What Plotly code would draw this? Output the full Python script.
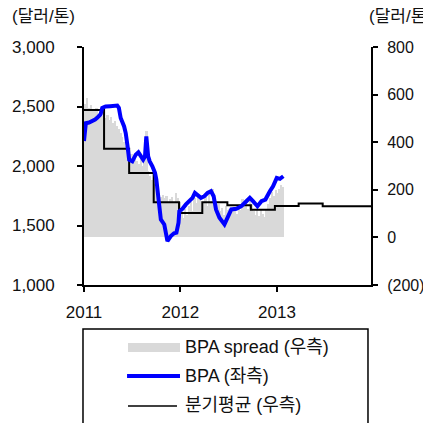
import pandas as pd
import plotly.graph_objects as go

# BPA spread, weekly (USD/t, right axis)
SPREAD_DATES = pd.date_range("2011-01-07", "2013-01-25", freq="W-FRI")
SPREAD_VALUES = [
    560, 585, 545, 555,            # 2011-01
    540, 530, 545, 520,            # 02
    525, 510, 520, 500,            # 03
    515, 495, 505, 480, 490,       # 04
    470, 455, 440, 420,            # 05
    400, 385, 360, 340,            # 06
    350, 330, 345, 320, 310,       # 07
    330, 300, 320, 445,            # 08
    280, 260, 240, 225, 210,       # 09
    195, 185, 170, 180,            # 10
    165, 175, 150, 160,            # 11
    170, 145, 185, 165, 150,       # 12
    110, 80, 120, 95,              # 2012-01
    130, 150, 110, 165,            # 02
    145, 175, 160, 120, 150,       # 03
    170, 130, 185, 150,            # 04
    205, 160, 120, 140,            # 05
    110, 125, 95, 130, 115,        # 06
    120, 105, 125, 110,            # 07
    100, 130, 115, 160, 140,       # 08
    150, 120, 165, 140,            # 09
    110, 95, 130, 90,              # 10
    120, 100, 85, 120, 140,        # 11
    165, 190, 175, 200,            # 12
    185, 205, 220, 210,            # 2013-01
]

# BPA price (USD/t, left axis)
BPA_DATES = [
    "2011-01-01", "2011-01-04", "2011-01-08", "2011-01-20", "2011-02-01", "2011-02-12",
    "2011-02-20", "2011-03-01", "2011-03-05", "2011-03-11", "2011-03-24", "2011-04-10",
    "2011-04-18", "2011-05-07", "2011-05-13", "2011-05-16", "2011-05-20", "2011-06-02",
    "2011-06-08", "2011-06-15", "2011-06-21", "2011-07-03", "2011-07-16", "2011-07-26",
    "2011-08-04", "2011-08-13", "2011-08-20", "2011-08-25", "2011-09-01", "2011-09-07",
    "2011-09-17", "2011-09-27", "2011-10-02", "2011-10-06", "2011-10-12", "2011-10-19",
    "2011-11-01", "2011-11-09", "2011-11-13", "2011-11-26", "2011-12-08", "2011-12-17",
    "2011-12-25", "2011-12-28", "2012-01-09", "2012-01-22", "2012-02-04", "2012-02-16",
    "2012-02-25", "2012-03-06", "2012-03-19", "2012-04-01", "2012-04-13", "2012-04-26",
    "2012-05-06", "2012-05-15", "2012-05-28", "2012-06-16", "2012-06-29", "2012-07-12",
    "2012-07-31", "2012-08-19", "2012-09-07", "2012-09-20", "2012-10-02", "2012-10-19",
    "2012-11-03", "2012-11-18", "2012-12-05", "2012-12-17", "2012-12-31", "2013-01-12",
    "2013-01-25",
]
BPA_VALUES = [
    2210, 2300, 2360, 2365, 2375, 2390,
    2405, 2420, 2435, 2487, 2500, 2503,
    2506, 2508, 2490, 2465, 2403, 2332,
    2277, 2165, 2053, 2039, 2095, 2115,
    2081, 2053, 2081, 2249, 2081, 2039,
    1997, 1942, 1886, 1802, 1662, 1551,
    1509, 1411, 1369, 1411, 1434, 1440,
    1523, 1620, 1640, 1677, 1704, 1732,
    1774, 1760, 1732, 1746, 1774, 1788,
    1746, 1635, 1565, 1509, 1565, 1635,
    1641, 1662, 1704, 1732, 1704, 1662,
    1704, 1718, 1788, 1830, 1900, 1892,
    1914,
]

# Quarterly average spread (USD/t, right axis)
QUARTER_DATES = [
    "2011-01-01", "2011-03-18", "2011-06-21", "2011-09-22", "2011-12-27", "2012-03-24",
    "2012-06-27", "2012-09-24", "2012-12-24", "2013-03-24", "2013-06-23", "2013-12-23",
]
QUARTER_VALUES = [535, 372, 271, 148, 103, 148, 135, 116, 132, 142, 131, 131]

YEAR_TICKS = ["2011-01-01", "2012-01-01", "2013-01-01"]
YEAR_LABELS = ["2011", "2012", "2013"]
RIGHT_TICKS = [-200, 0, 200, 400, 600, 800]
RIGHT_LABELS = ["(200)", "0", "200", "400", "600", "800"]

GRAY = "#d9d9d9"
BLUE = "#0000ff"
FONT = "Liberation Sans, Arial, Noto Sans CJK KR, sans-serif"

fig = go.Figure()
fig.add_trace(go.Bar(
    x=SPREAD_DATES, y=SPREAD_VALUES, yaxis="y",
    width=7 * 86400000, marker=dict(color=GRAY, line=dict(width=0)),
    name="BPA spread (우측)",
))
fig.add_trace(go.Scatter(
    x=QUARTER_DATES, y=QUARTER_VALUES, yaxis="y", mode="lines",
    line=dict(color="black", width=2, shape="hv"), name="분기평균 (우측)",
))
fig.add_trace(go.Scatter(
    x=BPA_DATES, y=BPA_VALUES, yaxis="y2", mode="lines",
    line=dict(color=BLUE, width=4), name="BPA (좌측)",
))

axis_style = dict(
    showline=True, linecolor="black", linewidth=2, ticks="outside", ticklen=5,
    tickwidth=2, tickcolor="black", showgrid=False, zeroline=False, automargin=False,
)

# the page body adds an 8px offset, so the figure is 8px smaller than the window
fig.update_layout(
    width=423, height=415,
    margin=dict(l=76, r=60, t=39, b=138),
    paper_bgcolor="white", plot_bgcolor="white",
    font=dict(family=FONT, size=17, color="#111"),
    showlegend=False, bargap=0,
    xaxis=dict(
        type="date", range=["2011-01-01", "2013-12-23"],
        tickvals=YEAR_TICKS, ticktext=YEAR_LABELS, ticklabelstandoff=6, **axis_style,
    ),
    yaxis=dict(
        side="right", range=[-200, 800], tickvals=RIGHT_TICKS, ticktext=RIGHT_LABELS,
        ticklabelstandoff=6, tickfont=dict(size=16), **axis_style,
    ),
    yaxis2=dict(
        side="left", overlaying="y", range=[1000, 3000], dtick=500, tickformat=",",
        ticklabelstandoff=19, **axis_style,
    ),
)

# unit labels above both axes
for x in [-0.258, 0.986]:
    fig.add_annotation(
        text="(달러/톤)", x=x, y=1.128, xref="paper", yref="paper",
        xanchor="left", yanchor="middle", showarrow=False,
    )

# boxed legend under the chart
fig.add_shape(type="rect", xref="paper", yref="paper", x0=-0.0035, x1=0.9895,
              y0=-0.62, y1=-0.185, line=dict(color="black", width=1.5))
fig.add_shape(type="rect", xref="paper", yref="paper", x0=0.1533, x1=0.3345,
              y0=-0.2815, y1=-0.2437, fillcolor=GRAY, line=dict(width=0))
fig.add_shape(type="line", xref="paper", yref="paper", x0=0.150, x1=0.3345,
              y0=-0.3824, y1=-0.3824, line=dict(color=BLUE, width=4))
fig.add_shape(type="line", xref="paper", yref="paper", x0=0.1533, x1=0.324,
              y0=-0.5084, y1=-0.5084, line=dict(color="black", width=1.5))
for label, y in [("BPA spread (우측)", -0.2605), ("BPA (좌측)", -0.3824), ("분기평균 (우측)", -0.504)]:
    fig.add_annotation(text=label, x=0.345, y=y, xref="paper", yref="paper",
                       xanchor="left", yanchor="middle", showarrow=False,
                       font=dict(size=18))

fig.write_html("out.html")
